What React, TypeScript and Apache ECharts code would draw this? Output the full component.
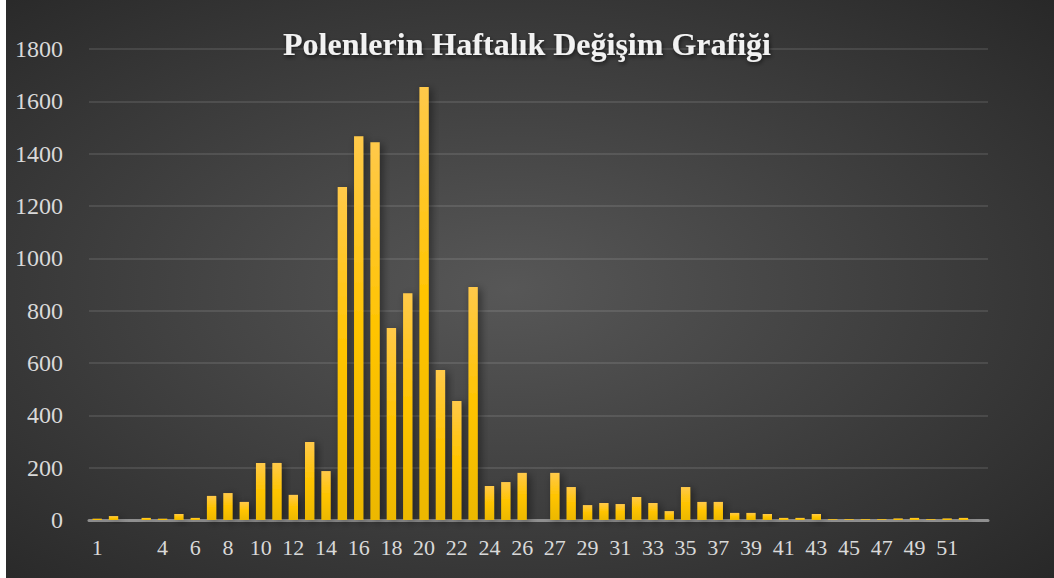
import React, { useEffect, useRef } from "react";
import * as echarts from "echarts";

const weeks: string[] = [
  "1", "2", "", "3", "4", "5", "6", "7", "8", "9", "10", "11", "12", "13", "14", "15", "16", "17", "18", "19", "20",
  "21", "22", "23", "24", "25", "26", "", "27", "28", "29", "30", "31", "32", "33", "34", "35", "36", "37", "38",
  "39", "40", "41", "42", "43", "44", "45", "46", "47", "48", "49", "50", "51", "52", "",
];

const pollen: (number | null)[] = [
  5, 15, null, 8, 5, 23, 8, 92, 103, 69, 218, 218, 96, 298, 187, 1273, 1467, 1444, 734, 867, 1655,
  573, 455, 890, 130, 145, 180, null, 180, 126, 57, 65, 61, 88, 65, 34, 126, 69, 69,
  27, 27, 23, 8, 8, 23, 3, 3, 3, 3, 6, 8, 3, 6, 8, null,
];

const yTicks = { min: 0, max: 1800, interval: 200 };
const titleText = "Polenlerin Haftalık Değişim Grafiği";

export default function App() {
  const ref = useRef<HTMLDivElement>(null);
  useEffect(() => {
    document.body.style.margin = "0";
    const chart = echarts.init(ref.current!, null, { renderer: "svg" });
    const font = "'Liberation Serif', 'Times New Roman', serif";
    chart.setOption({
      animation: false,
      backgroundColor: {
        type: "radial",
        x: 0.48,
        y: 0.5,
        r: 0.75,
        colorStops: [
          { offset: 0, color: "#575757" },
          { offset: 1, color: "#262626" },
        ],
      },
      title: {
        text: titleText,
        left: 272,
        top: 23,
        textStyle: {
          fontFamily: font,
          fontSize: 32,
          fontWeight: "bold",
          color: "#f2f2f2",
          textShadowColor: "rgba(0,0,0,0.6)",
          textShadowBlur: 4,
          textShadowOffsetX: 1,
          textShadowOffsetY: 2,
        },
      },
      grid: { left: 83, right: 66, top: 49, bottom: 58, containLabel: false },
      xAxis: {
        type: "category",
        data: weeks,
        axisLine: { lineStyle: { color: "#8f8f8f", width: 3 } },
        axisTick: { show: false },
        axisLabel: {
          interval: 1,
          color: "#d9d9d9",
          fontFamily: font,
          fontSize: 22,
          margin: 16,
        },
        splitLine: { show: false },
      },
      yAxis: {
        type: "value",
        min: yTicks.min,
        max: yTicks.max,
        interval: yTicks.interval,
        axisLine: { show: false },
        axisTick: { show: false },
        axisLabel: {
          color: "#d9d9d9",
          fontFamily: font,
          fontSize: 24,
          margin: 26,
          formatter: (v: number) => String(v),
        },
        splitLine: { lineStyle: { color: "rgba(255,255,255,0.1)", width: 2 } },
      },
      series: [
        {
          type: "bar",
          data: pollen,
          barCategoryGap: "43%",
          itemStyle: {
            color: {
              type: "linear",
              x: 0,
              y: 0,
              x2: 0,
              y2: 1,
              colorStops: [
                { offset: 0, color: "#ffc94a" },
                { offset: 0.5, color: "#ffc400" },
                { offset: 1, color: "#ecb800" },
              ],
            },
            shadowColor: "rgba(0,0,0,0.45)",
            shadowBlur: 8,
            shadowOffsetX: 3,
            shadowOffsetY: 2,
          },
        },
      ],
    });
    return () => chart.dispose();
  }, []);
  return (
    <div
      ref={ref}
      style={{ position: "absolute", left: 6, top: 0, width: 1048, height: 578 }}
    />
  );
}
